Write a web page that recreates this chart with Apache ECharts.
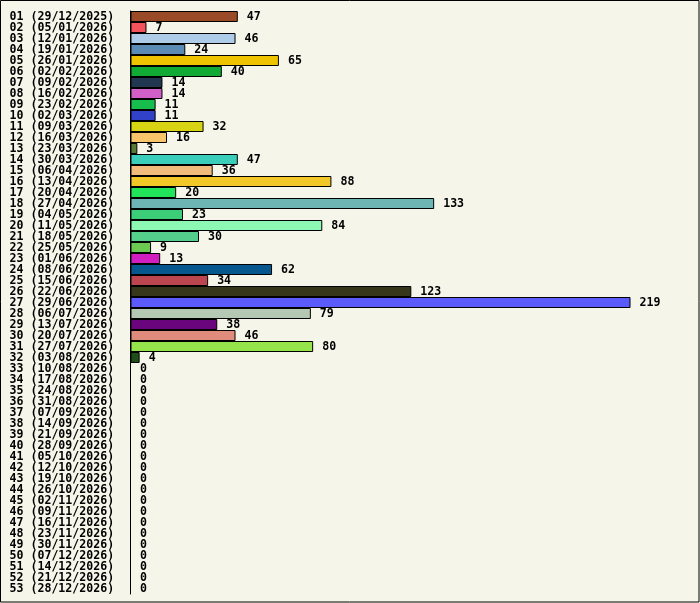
<!DOCTYPE html>
<html>
<head>
<meta charset="utf-8">
<script src="https://cdn.jsdelivr.net/npm/echarts@6/dist/echarts.min.js"></script>
<style>
html,body{margin:0;padding:0;background:#f5f5ea;}
#c{width:700px;height:603px;}
</style>
</head>
<body>
<div id="c"></div>
<script>
var categories = [
"01 (29/12/2025)","02 (05/01/2026)","03 (12/01/2026)","04 (19/01/2026)","05 (26/01/2026)",
"06 (02/02/2026)","07 (09/02/2026)","08 (16/02/2026)","09 (23/02/2026)","10 (02/03/2026)",
"11 (09/03/2026)","12 (16/03/2026)","13 (23/03/2026)","14 (30/03/2026)","15 (06/04/2026)",
"16 (13/04/2026)","17 (20/04/2026)","18 (27/04/2026)","19 (04/05/2026)","20 (11/05/2026)",
"21 (18/05/2026)","22 (25/05/2026)","23 (01/06/2026)","24 (08/06/2026)","25 (15/06/2026)",
"26 (22/06/2026)","27 (29/06/2026)","28 (06/07/2026)","29 (13/07/2026)","30 (20/07/2026)",
"31 (27/07/2026)","32 (03/08/2026)","33 (10/08/2026)","34 (17/08/2026)","35 (24/08/2026)",
"36 (31/08/2026)","37 (07/09/2026)","38 (14/09/2026)","39 (21/09/2026)","40 (28/09/2026)",
"41 (05/10/2026)","42 (12/10/2026)","43 (19/10/2026)","44 (26/10/2026)","45 (02/11/2026)",
"46 (09/11/2026)","47 (16/11/2026)","48 (23/11/2026)","49 (30/11/2026)","50 (07/12/2026)",
"51 (14/12/2026)","52 (21/12/2026)","53 (28/12/2026)"
];
var values = [47,7,46,24,65,40,14,14,11,11,32,16,3,47,36,88,20,133,23,84,30,9,13,62,34,123,219,79,38,46,80,4,
0,0,0,0,0,0,0,0,0,0,0,0,0,0,0,0,0,0,0,0,0];
var colors = ["#9a4a26","#f2545b","#aecbe8","#5b8ab5","#f0c300","#10aa35","#21364f","#d05fc8","#17be4e","#3242c8",
"#d8d414","#f9c56a","#587a37","#3acdb9","#f0bb7b","#f1c828","#22e45a","#6db5b5","#3ccd78","#8cf8b4",
"#55d08c","#6bc850","#d01ec0","#05578e","#bc4650","#36361a","#5b5afa","#b4c8b4","#6a057d","#e08c7d",
"#96e44b","#1e4f18"];

var font = "DejaVu Sans Mono";
var chart = echarts.init(document.getElementById('c'));
chart.setOption({
  animation:false,
  backgroundColor:'#f5f5ea',
  grid:{left:130.5, top:11, width:500, height:583, containLabel:false},
  xAxis:{type:'value', min:0, max:219, show:false},
  yAxis:{type:'category', data:categories, inverse:true,
    axisLine:{show:true, lineStyle:{color:'#000', width:1}},
    axisTick:{show:false},
    axisLabel:{interval:0, align:'left', margin:121, color:'#000', fontFamily:font, fontWeight:'bold', fontSize:11.6}
  },
  series:[{
    type:'bar',
    barCategoryGap:'0%',
    data: values.map(function(v,i){return {value:v, itemStyle:{color:colors[i]||'#999'}};}),
    itemStyle:{borderColor:'#000', borderWidth:1},
    label:{show:true, position:'right', distance:9, color:'#000', fontFamily:font, fontWeight:'bold', fontSize:11.6}
  }],
  graphic:[{type:'rect', shape:{x:0.5,y:0.5,width:698.5,height:601.5}, style:{fill:null, stroke:'#000', lineWidth:1}, z:100}]
});
</script>
</body>
</html>
